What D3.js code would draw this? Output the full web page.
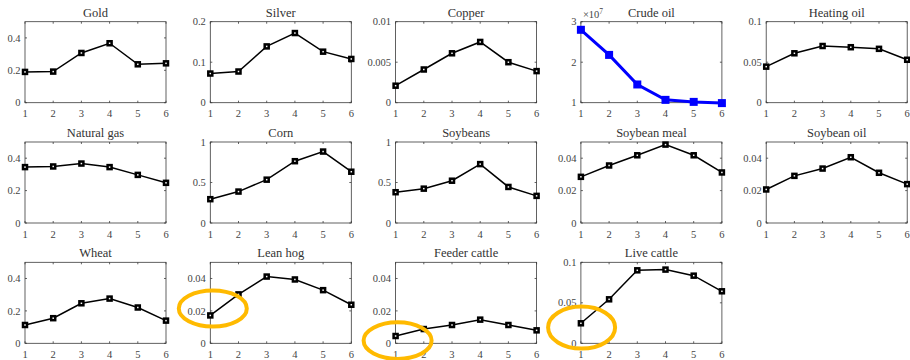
<!DOCTYPE html>
<html>
<head>
<meta charset="utf-8">
<script src="https://cdn.jsdelivr.net/npm/d3@7"></script>
<style>
  body { margin: 0; background: #fff; }
</style>
</head>
<body>
<div id="chart"></div>
<script>
// data
var horizons = [1, 2, 3, 4, 5, 6];
var titles = ["Gold", "Silver", "Copper", "Crude oil", "Heating oil",
  "Natural gas", "Corn", "Soybeans", "Soybean meal", "Soybean oil",
  "Wheat", "Lean hog", "Feeder cattle", "Live cattle"];

var gold = [0.19, 0.192, 0.307, 0.367, 0.237, 0.243];
var silver = [0.072, 0.077, 0.139, 0.172, 0.126, 0.108];
var copper = [0.0021, 0.0041, 0.0061, 0.0075, 0.005, 0.0039];
var crudeOil = [2.8e7, 2.18e7, 1.45e7, 1.07e7, 1.02e7, 0.99e7];
var heatingOil = [0.0445, 0.061, 0.07, 0.0685, 0.0665, 0.053];
var naturalGas = [0.345, 0.349, 0.367, 0.345, 0.297, 0.248];
var corn = [0.294, 0.388, 0.535, 0.763, 0.882, 0.633];
var soybeans = [0.38, 0.424, 0.522, 0.727, 0.445, 0.335];
var soybeanMeal = [0.0285, 0.0355, 0.0418, 0.0484, 0.0418, 0.0312];
var soybeanOil = [0.0207, 0.0291, 0.0336, 0.0406, 0.031, 0.024];
var wheat = [0.113, 0.155, 0.247, 0.276, 0.221, 0.14];
var leanHog = [0.0172, 0.0302, 0.0412, 0.0394, 0.0328, 0.0238];
var feederCattle = [0.0045, 0.0088, 0.0113, 0.0146, 0.0113, 0.008];
var liveCattle = [0.0247, 0.0543, 0.0901, 0.091, 0.0835, 0.0642];

var series = [gold, silver, copper, crudeOil, heatingOil, naturalGas, corn,
  soybeans, soybeanMeal, soybeanOil, wheat, leanHog, feederCattle, liveCattle];

// y limits and ticks per panel
var yMin = [0, 0, 0, 1e7, 0, 0, 0, 0, 0, 0, 0, 0, 0, 0];
var yMax = [0.5, 0.2, 0.01, 3e7, 0.1, 0.5, 1, 1, 0.05, 0.05, 0.5, 0.05, 0.05, 0.1];
var yTicks = [
  [0, 0.2, 0.4], [0, 0.1, 0.2], [0, 0.005, 0.01], [1e7, 2e7, 3e7], [0, 0.05, 0.1],
  [0, 0.2, 0.4], [0, 0.5, 1], [0, 0.5, 1], [0, 0.02, 0.04], [0, 0.02, 0.04],
  [0, 0.2, 0.4], [0, 0.02, 0.04], [0, 0.02, 0.04], [0, 0.05, 0.1]
];
var yTickLabels = [
  ["0", "0.2", "0.4"], ["0", "0.1", "0.2"], ["0", "0.005", "0.01"], ["1", "2", "3"], ["0", "0.05", "0.1"],
  ["0", "0.2", "0.4"], ["0", "0.5", "1"], ["0", "0.5", "1"], ["0", "0.02", "0.04"], ["0", "0.02", "0.04"],
  ["0", "0.2", "0.4"], ["0", "0.02", "0.04"], ["0", "0.02", "0.04"], ["0", "0.05", "0.1"]
];
var highlightPanels = [3];   // drawn in blue
var circledPanels = [11, 12, 13]; // first point circled

// layout
var W = 910, H = 360;
var colLeft = 25, colStep = 185.3, rowTop = 21.7, rowStep = 120.3;
var pw = 141, ph = 81;
var ellipseOffset = { 11: [2.5, -7, 34, 18], 12: [2, 4.6, 34, 18.3], 13: [0.7, 4.3, 33.5, 21] };
var serif = "'Liberation Serif', 'Times New Roman', serif";

var svg = d3.select("#chart").append("svg")
  .attr("width", W).attr("height", H)
  .attr("font-family", serif)
  .attr("font-weight", "normal");

var axisColor = "#3a3a3a", labelColor = "#444";

series.forEach(function (vals, i) {
  var col = i % 5, row = Math.floor(i / 5);
  var g = svg.append("g")
    .attr("transform", "translate(" + (colLeft + col * colStep) + "," + (rowTop + row * rowStep) + ")");

  var x = d3.scaleLinear().domain([1, 6]).range([0, pw]);
  var y = d3.scaleLinear().domain([yMin[i], yMax[i]]).range([ph, 0]);

  // box
  g.append("rect")
    .attr("width", pw).attr("height", ph)
    .attr("fill", "none").attr("stroke", axisColor).attr("stroke-width", 0.8);

  // ticks (inward, all four sides)
  g.selectAll(".xt").data(horizons).enter().append("path")
    .attr("d", function (d) {
      var xx = x(d);
      return "M" + xx + "," + ph + "v-2M" + xx + ",0v2";
    })
    .attr("stroke", axisColor).attr("stroke-width", 0.8);
  g.selectAll(".yt").data(yTicks[i]).enter().append("path")
    .attr("d", function (d) {
      var yy = y(d);
      return "M0," + yy + "h2M" + pw + "," + yy + "h-2";
    })
    .attr("stroke", axisColor).attr("stroke-width", 0.8);

  // tick labels
  g.selectAll(".xl").data(horizons).enter().append("text")
    .attr("x", function (d) { return x(d); })
    .attr("y", ph + 14.5)
    .attr("text-anchor", "middle")
    .attr("font-family", serif)
    .attr("font-size", "10.5px")
    .attr("fill", labelColor)
    .text(function (d) { return d; });
  g.selectAll(".yl").data(yTicks[i]).enter().append("text")
    .attr("x", -4.5)
    .attr("y", function (d) { return y(d); })
    .attr("dy", "0.35em")
    .attr("text-anchor", "end")
    .attr("font-family", serif)
    .attr("font-size", "10.5px")
    .attr("fill", labelColor)
    .text(function (d, k) { return yTickLabels[i][k]; });

  // title
  g.append("text")
    .attr("x", pw / 2).attr("y", -5)
    .attr("text-anchor", "middle")
    .attr("font-family", serif)
    .attr("font-size", "12.5px")
    .attr("fill", "#333")
    .text(titles[i]);

  var blue = highlightPanels.indexOf(i) >= 0;
  var color = blue ? "#0000ff" : "#000";

  if (blue) {
    // exponent label
    var ex = g.append("text").attr("x", 2).attr("y", -4)
      .attr("font-family", serif)
      .attr("font-size", "10.5px").attr("fill", labelColor);
    ex.append("tspan").text("\u00d710");
    ex.append("tspan").attr("dy", -4).attr("font-size", "7.5px").text("7");
  }

  var line = d3.line()
    .x(function (d, k) { return x(horizons[k]); })
    .y(function (d) { return y(d); });

  g.append("path").datum(vals)
    .attr("d", line)
    .attr("fill", "none")
    .attr("stroke", color)
    .attr("stroke-width", blue ? 3 : 1.5);

  var ms = blue ? 6 : 4;
  g.selectAll(".m").data(vals).enter().append("rect")
    .attr("x", function (d, k) { return x(horizons[k]) - ms / 2; })
    .attr("y", function (d) { return y(d) - ms / 2; })
    .attr("width", ms).attr("height", ms)
    .attr("fill", blue ? color : "#fff")
    .attr("stroke", color)
    .attr("stroke-width", blue ? 2 : 2.5);

  if (circledPanels.indexOf(i) >= 0) {
    var o = ellipseOffset[i];
    g.append("ellipse")
      .attr("cx", x(horizons[0]) + o[0])
      .attr("cy", y(vals[0]) + o[1])
      .attr("rx", o[2]).attr("ry", o[3])
      .attr("fill", "none")
      .attr("stroke", "#ffba00")
      .attr("stroke-width", 4);
  }
});
</script>
</body>
</html>
